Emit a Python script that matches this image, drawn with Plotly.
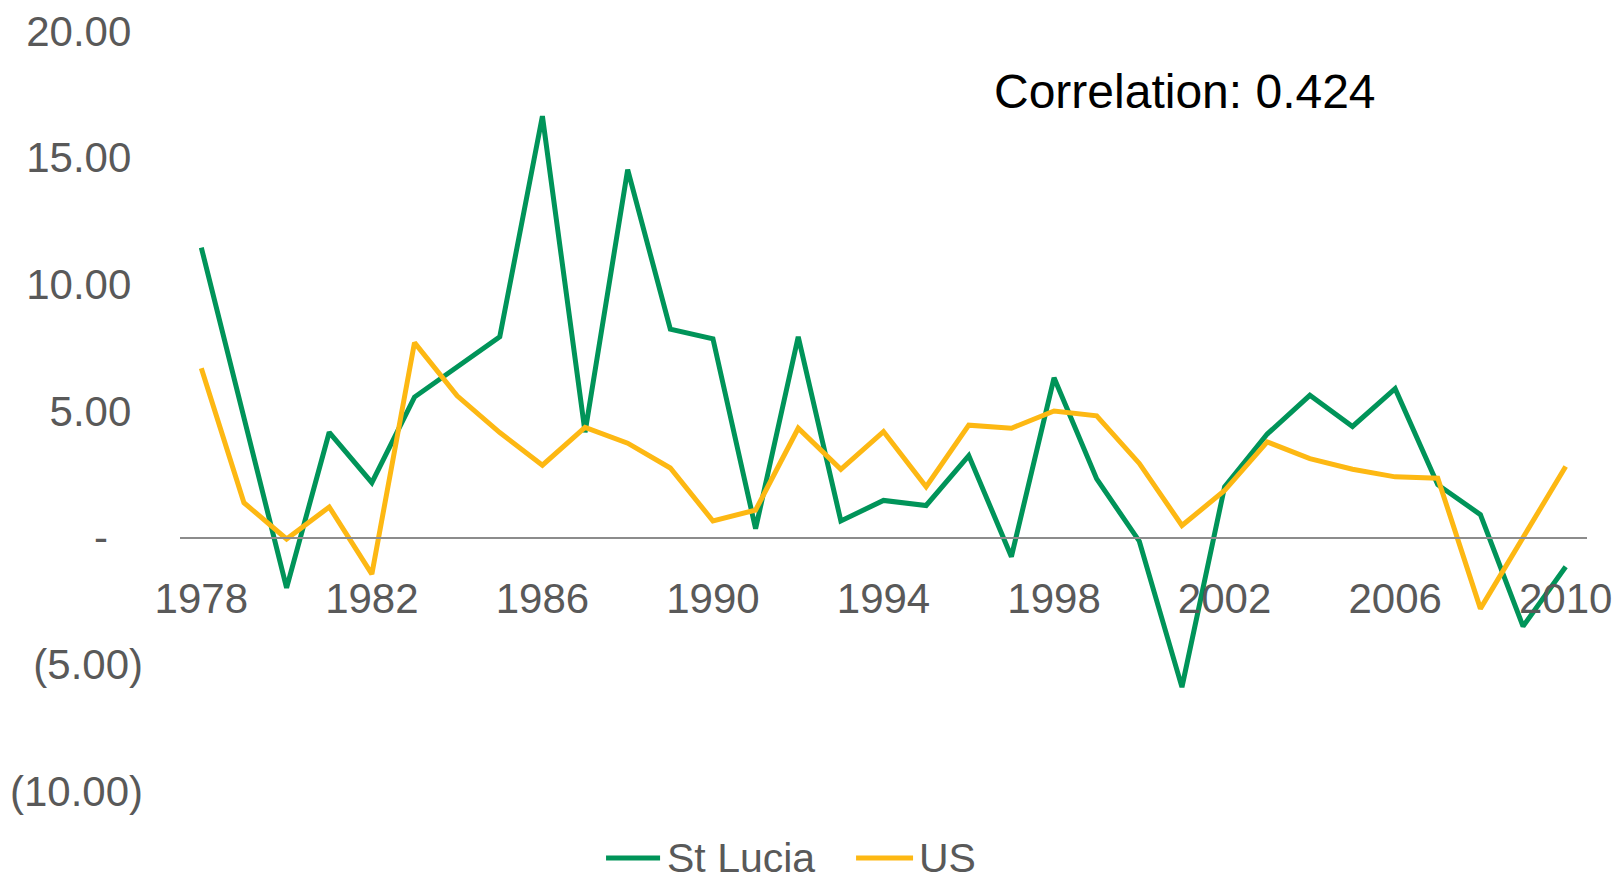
import plotly.graph_objects as go

years = list(range(1978, 2011))
st_lucia = [11.45, 4.7, -1.98, 4.16, 2.17, 5.55, 6.74, 7.93, 16.64, 4.16, 14.53, 8.23, 7.85, 0.35,
            7.93, 0.66, 1.47, 1.27, 3.24, -0.75, 6.31, 2.32, -0.14, -5.9, 2.01, 4.09, 5.62, 4.39,
            5.88, 2.09, 0.91, -3.5, -1.15]
us = [6.69, 1.38, -0.05, 1.21, -1.44, 7.70, 5.6, 4.15, 2.86, 4.35, 3.73, 2.75, 0.66, 1.09,
      4.32, 2.70, 4.19, 2.01, 4.44, 4.32, 5.0, 4.81, 2.93, 0.48, 1.86, 3.78, 3.12, 2.70,
      2.40, 2.35, -2.8, 0.02, 2.81]
series_names = ["St Lucia", "US"]
y_tickvals = [20, 15, 10, 5, 0, -5, -10]
y_ticktext = ["20.00\u00a0", "15.00\u00a0", "10.00\u00a0", "5.00\u00a0", "-\u2007\u00a0", "(5.00)", "(10.00)"]
x_tickvals = list(range(1978, 2011, 4))
annotation_text = "Correlation: 0.424"

GREEN = "#009459"
YELLOW = "#FDB813"
TXT = "#595959"
FONT = "Liberation Sans, Arial, sans-serif"
colors = [GREEN, YELLOW]

fig = go.Figure()
for name, vals, col in zip(series_names, [st_lucia, us], colors):
    fig.add_trace(go.Scatter(x=years, y=vals, mode="lines", name=name,
                             line=dict(color=col, width=5), showlegend=False))

# legend drawn as swatches + text (positions in paper coords)
leg_y = -0.088
legend_items = [(0.3028, 0.3412, 0.3447), (0.4805, 0.5210, 0.5238)]
shapes = []
annotations = []
for (x0, x1, xt), name, col in zip(legend_items, series_names, colors):
    shapes.append(dict(type="line", xref="paper", yref="paper", x0=x0, x1=x1, y0=leg_y, y1=leg_y,
                       line=dict(color=col, width=5)))
    annotations.append(dict(text=name, xref="paper", yref="paper", x=xt, y=leg_y,
                            xanchor="left", yanchor="middle", showarrow=False,
                            font=dict(size=41, color=TXT, family=FONT)))
annotations.append(dict(text=annotation_text, xref="paper", yref="paper", x=0.714, y=0.921,
                        xanchor="center", yanchor="middle", showarrow=False,
                        font=dict(size=48, color="black", family=FONT)))

fig.update_layout(
    width=1616, height=880,
    margin=dict(l=180, r=29, t=31, b=89, autoexpand=False),
    paper_bgcolor="white", plot_bgcolor="white",
    font=dict(family=FONT, size=42, color=TXT),
    showlegend=False,
    xaxis=dict(range=[1977.5, 2010.5], tickvals=x_tickvals, showgrid=False,
               anchor="free", position=1/3, showline=True, linecolor="#8C8C8C", linewidth=2,
               ticks="", zeroline=False, tickfont=dict(size=42, color=TXT),
               ticklabelstandoff=24, automargin=False, ticklabeloverflow="allow"),
    yaxis=dict(range=[-10, 20], tickvals=y_tickvals, ticktext=y_ticktext, showgrid=False,
               zeroline=False, showline=False, ticks="", tickfont=dict(size=42, color=TXT),
               ticklabelstandoff=36, automargin=False, ticklabeloverflow="allow"),
    shapes=shapes,
    annotations=annotations,
)

fig.write_html("out.html", config={"displayModeBar": False},
               post_script="document.body.style.margin='0px';document.body.style.overflow='hidden';")
